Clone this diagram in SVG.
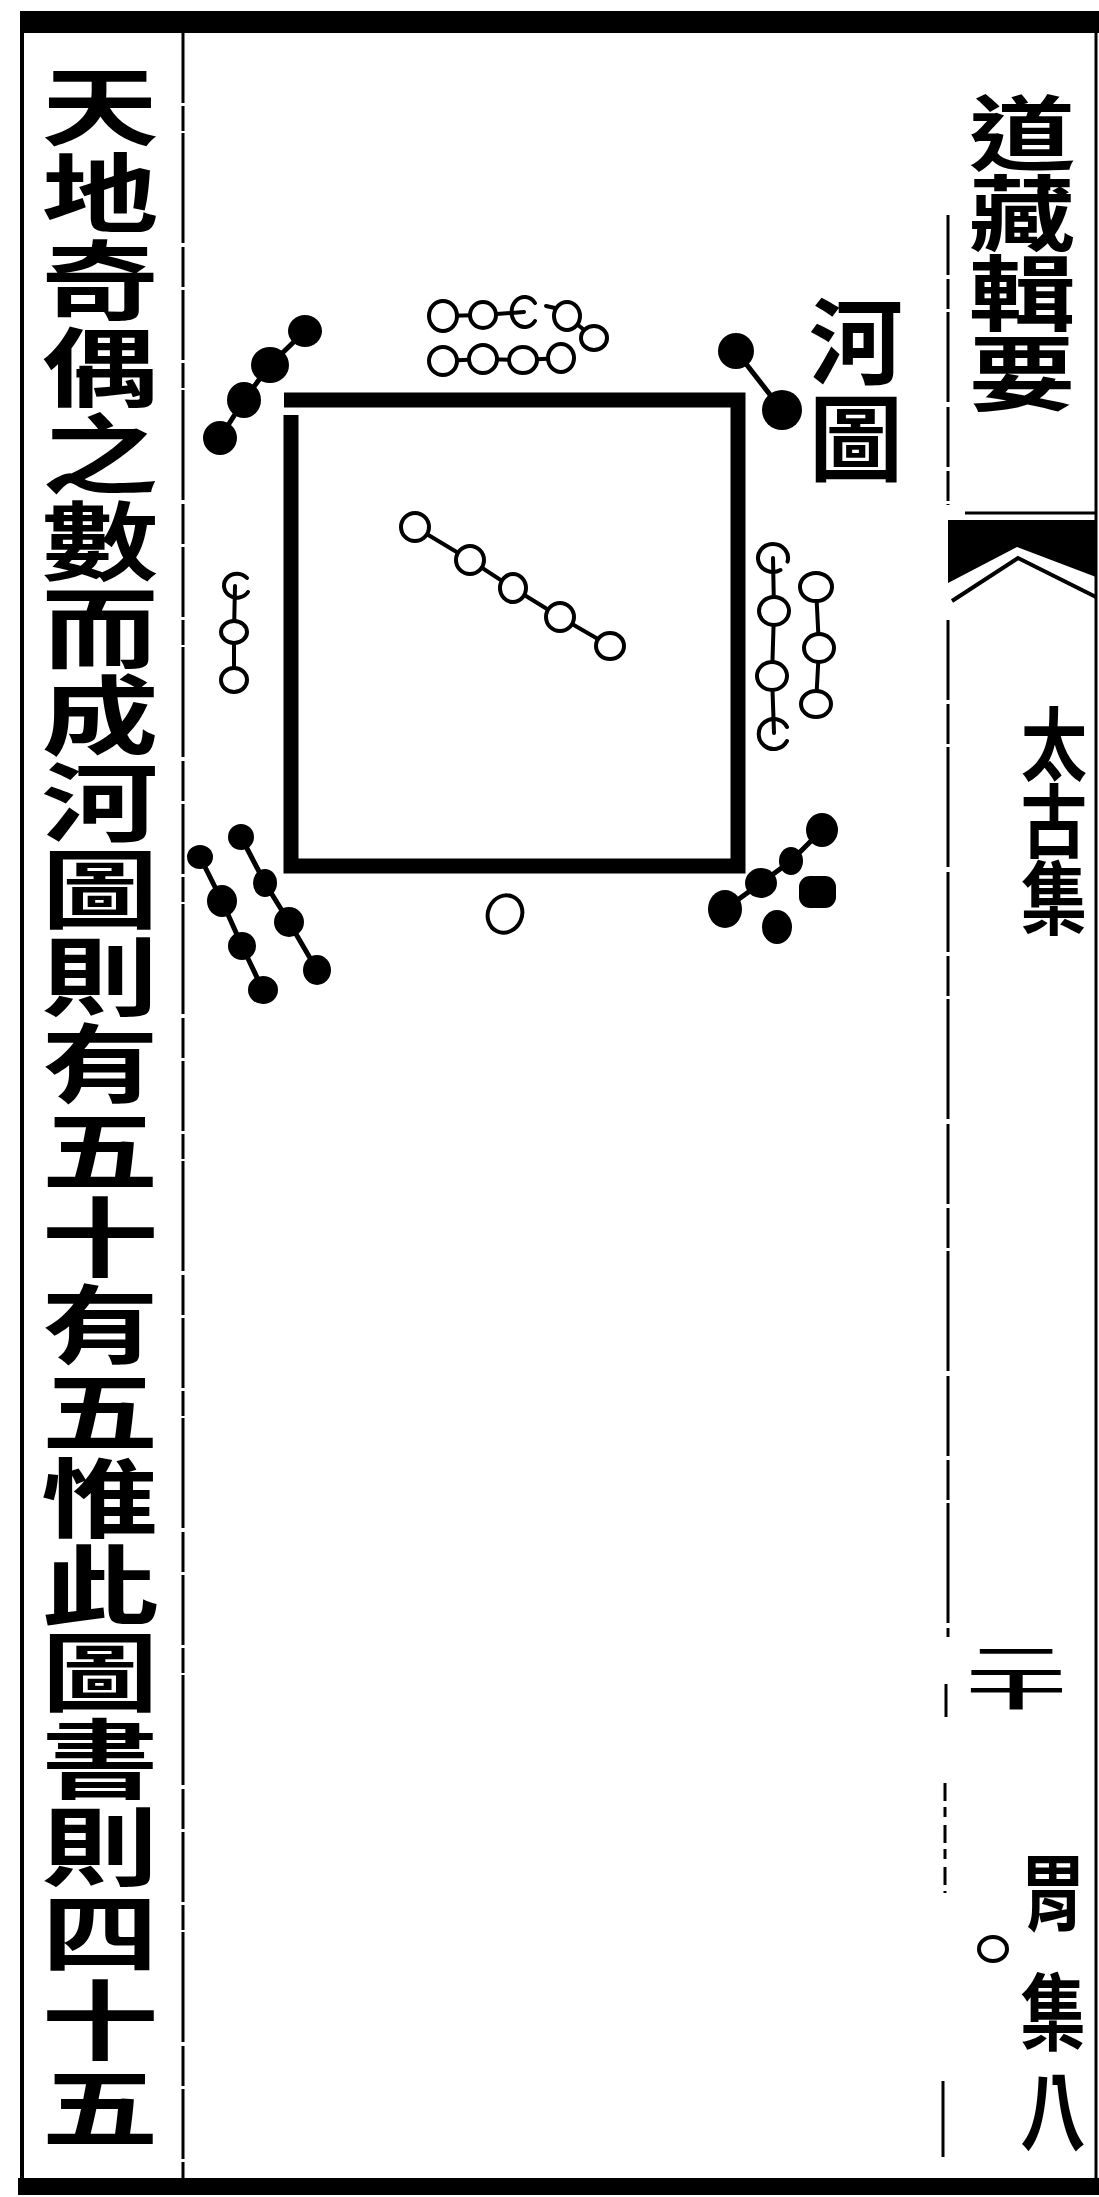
<svg xmlns="http://www.w3.org/2000/svg" width="1099" height="2197" viewBox="0 0 1099 2197">
<style>
.k{font-family:"Noto Sans CJK TC","Noto Sans CJK SC","Noto Sans CJK JP",sans-serif;font-weight:700;fill:#000}
.v{writing-mode:vertical-rl;text-anchor:start}
.w{fill:#fff;stroke:#000;stroke-width:4}
.b{fill:#000}
.cw{fill:none;stroke:#000;stroke-width:4;stroke-linecap:round;stroke-linejoin:round}
.cb{fill:none;stroke:#000;stroke-width:5;stroke-linecap:round;stroke-linejoin:round}
.rule{stroke:#000;fill:none}
</style>
<rect x="0" y="0" width="1099" height="2197" fill="#fff"/>

<g id="page-frame">
  <rect x="20" y="11" width="1079" height="22" fill="#000"/>
  <rect x="18" y="2178" width="1081" height="17" fill="#000"/>
  <line class="rule" x1="22" y1="11" x2="22" y2="2194" stroke-width="4"/>
  <line class="rule" x1="1096" y1="11" x2="1096" y2="2194" stroke-width="3"/>
  <line class="rule" x1="183" y1="33" x2="183" y2="2178" stroke-width="3" stroke-dasharray="70 3 25 2 110 4 40 3"/>
  <g id="right-rules" class="rule" stroke-width="3">
    <line x1="948" y1="215" x2="948" y2="505" stroke-dasharray="60 4 30 3 90 5"/>
    <line x1="948" y1="620" x2="948" y2="1637" stroke-dasharray="80 4 40 3 120 5"/>
    <line x1="946" y1="1684" x2="946" y2="1717"/>
    <line x1="945" y1="1783" x2="945" y2="1893" stroke-dasharray="18 6 10 8"/>
    <line x1="943" y1="2081" x2="943" y2="2157"/>
    <line x1="965" y1="513" x2="1095" y2="513"/>
  </g>
  <g id="fish-tail">
    <path d="M948,520 L1096,520 L1096,577 L1017,547 L948,583 Z" fill="#000"/>
    <path d="M952,601 L1018,558 L1096,597" fill="none" stroke="#000" stroke-width="4"/>
  </g>
</g>

<g id="connectors">
  <polyline class="cw" points="443,316 483,315 524,312"/>
  <line class="cw" x1="546" y1="306" x2="555" y2="308"/>
  <polyline class="cw" points="567,316 594,338"/>
  <polyline class="cw" points="443,361 483,359 523,360 561,358"/>
  <polyline class="cb" points="305,331 270,365 244,400 220,438"/>
  <polyline class="cb" points="736,351 782,410"/>
  <polyline class="cw" points="773,558 774,611 772,676 774,733" stroke-width="5"/>
  <polyline class="cw" points="816,587 819,648 816,704" stroke-width="5"/>
  <polyline class="cw" points="235,586 234,632 234,680"/>
  <polyline class="cw" points="415,527 470,560 513,588 560,617 610,646"/>
  <polyline class="cb" points="200,857 222,901 242,946 263,990"/>
  <polyline class="cb" points="241,837 265,883 289,922 317,970"/>
  <polyline class="cb" points="822,830 791,861 761,883 725,909"/>
</g>

<g id="square">
  <path d="M284,400 L738,400 L738,866 L291,866 L291,415" fill="none" stroke="#000" stroke-width="15" stroke-linejoin="miter"/>
</g>

<g id="top-nine-white">
  <ellipse class="w" cx="443" cy="316" rx="14" ry="15"/>
  <ellipse class="w" cx="483" cy="315" rx="13" ry="13"/>
  <path d="M535,303 A13,15 0 1 0 535,321" class="cw"/>
  <ellipse class="w" cx="567" cy="316" rx="13" ry="14"/>
  <ellipse class="w" cx="594" cy="338" rx="13" ry="12"/>
  <ellipse class="w" cx="443" cy="361" rx="14" ry="14"/>
  <ellipse class="w" cx="483" cy="359" rx="14" ry="14"/>
  <ellipse class="w" cx="523" cy="360" rx="14" ry="13"/>
  <ellipse class="w" cx="561" cy="358" rx="13" ry="14"/>
</g>

<g id="nw-four-black">
  <ellipse class="b" cx="305" cy="331" rx="17" ry="16"/>
  <ellipse class="b" cx="270" cy="365" rx="19" ry="18"/>
  <ellipse class="b" cx="244" cy="400" rx="17" ry="18"/>
  <ellipse class="b" cx="220" cy="438" rx="17" ry="17"/>
</g>

<g id="ne-two-black">
  <ellipse class="b" cx="736" cy="351" rx="18" ry="18"/>
  <ellipse class="b" cx="782" cy="410" rx="20" ry="20"/>
</g>

<g id="right-seven-white">
  <path d="M780.5,570.1 A15,14 0 1 1 787.5,561.6" class="cw"/>
  <ellipse class="w" cx="774" cy="611" rx="15" ry="14"/>
  <ellipse class="w" cx="772" cy="676" rx="15" ry="14"/>
  <path d="M787,727 A15,15 0 1 0 787,741" class="cw"/>
  <ellipse class="w" cx="816" cy="587" rx="16" ry="14"/>
  <ellipse class="w" cx="819" cy="648" rx="15" ry="14"/>
  <ellipse class="w" cx="816" cy="704" rx="15" ry="13"/>
</g>

<g id="left-three-white">
  <path d="M247,578 A13,12 0 1 0 248,592" class="cw"/>
  <ellipse class="w" cx="234" cy="632" rx="13" ry="11"/>
  <ellipse class="w" cx="234" cy="680" rx="13" ry="12"/>
</g>

<g id="center-five-white">
  <ellipse class="w" cx="415" cy="527" rx="14" ry="14"/>
  <ellipse class="w" cx="470" cy="560" rx="14" ry="14"/>
  <ellipse class="w" cx="513" cy="588" rx="13" ry="14"/>
  <ellipse class="w" cx="560" cy="617" rx="14" ry="14"/>
  <ellipse class="w" cx="610" cy="646" rx="14" ry="13"/>
</g>

<g id="bottom-one-white">
  <ellipse class="w" cx="505" cy="914" rx="17" ry="19" transform="rotate(25 505 914)"/>
</g>

<g id="sw-eight-black">
  <ellipse class="b" cx="200" cy="857" rx="13" ry="12"/>
  <ellipse class="b" cx="222" cy="901" rx="15" ry="16"/>
  <ellipse class="b" cx="242" cy="946" rx="14" ry="14"/>
  <ellipse class="b" cx="263" cy="990" rx="15" ry="14"/>
  <ellipse class="b" cx="241" cy="837" rx="13" ry="13"/>
  <ellipse class="b" cx="265" cy="883" rx="12" ry="14"/>
  <ellipse class="b" cx="289" cy="922" rx="15" ry="15"/>
  <ellipse class="b" cx="317" cy="970" rx="14" ry="15"/>
</g>

<g id="se-six-black">
  <ellipse class="b" cx="822" cy="830" rx="16" ry="17"/>
  <ellipse class="b" cx="791" cy="861" rx="12" ry="14"/>
  <ellipse class="b" cx="761" cy="883" rx="16" ry="15"/>
  <ellipse class="b" cx="725" cy="909" rx="17" ry="19"/>
  <rect class="b" x="799" y="876" width="37" height="32" rx="11"/>
  <ellipse class="b" cx="777" cy="927" rx="15" ry="17"/>
</g>

<g id="title-hetu">
  <text class="k v" x="856" y="294" font-size="94" letter-spacing="3">河圖</text>
</g>

<g id="book-title" transform="translate(1022,0) scale(1.3,1)">
  <text class="k v" x="0" y="92" font-size="82" letter-spacing="-2">道藏輯要</text>
</g>

<g id="section-title" transform="translate(1054,0) scale(0.83,1)">
  <text class="k v" x="0" y="704" font-size="80" letter-spacing="-3">太古集</text>
</g>

<g id="page-number">
  <text class="k v" font-size="100" letter-spacing="-12" transform="translate(1016,1643) scale(1,0.36)">二十</text>
</g>

<g id="volume-mark">
  <ellipse cx="993" cy="1949" rx="14" ry="12" fill="#fff" stroke="#000" stroke-width="4"/>
  <g transform="translate(1053,0) scale(0.78,1)">
    <text class="k v" x="0" y="1850" font-size="84">胃</text>
    <text class="k v" x="0" y="1970" font-size="84" letter-spacing="15">集八</text>
  </g>
</g>

<g id="left-column-text" transform="translate(100,0) scale(1.36,1)">
  <text class="k v" x="0" y="63.5" font-size="86" letter-spacing="1">天地奇偶之數而成河圖則有五十有五惟此圖書則四十五</text>
</g>
</svg>
